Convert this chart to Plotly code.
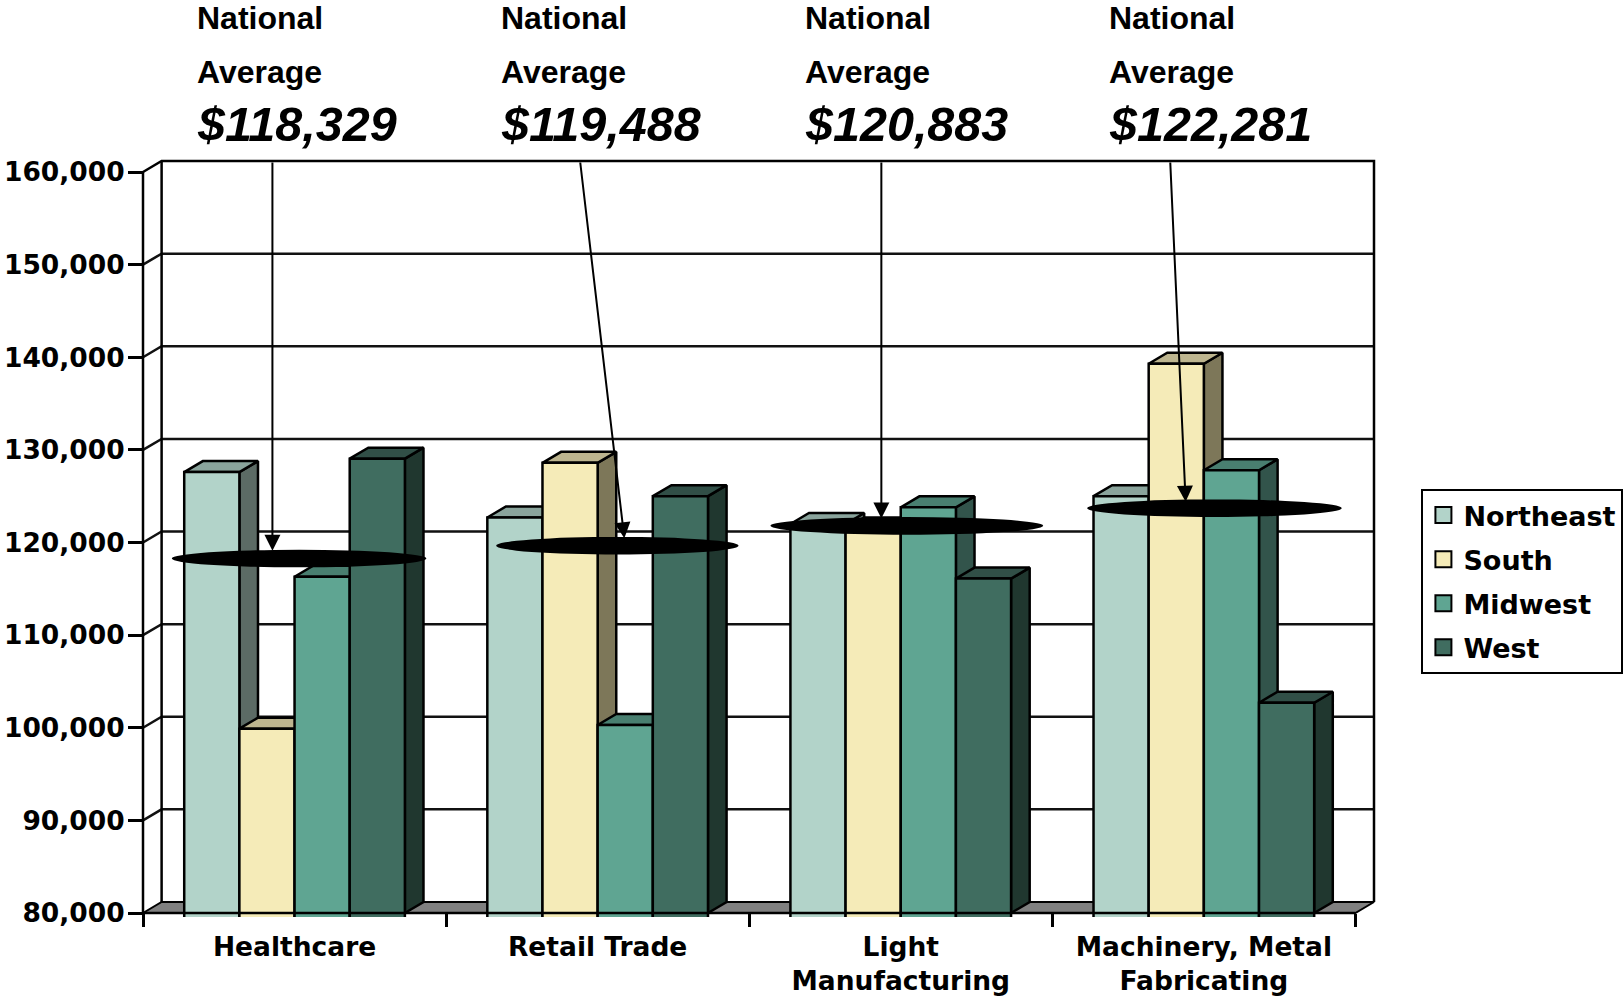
import plotly.graph_objects as go

categories = ["Healthcare", "Retail Trade", "Light<br>Manufacturing", "Machinery, Metal<br>Fabricating"]
northeast = [127600, 122700, 122000, 125000]
south = [99900, 128600, 121500, 139300]
midwest = [116300, 100300, 123800, 127800]
west = [129050, 125000, 116100, 102700]
series_names = ["Northeast", "South", "Midwest", "West"]
front_colors = ["#B2D3C9", "#F5EBB8", "#5FA592", "#406D60"]
top_colors = ["#8AA49C", "#BDB58F", "#497F70", "#314F47"]
side_colors = ["#5C6B65", "#7D7759", "#32544B", "#20372F"]
national_avg = ["$118,329", "$119,488", "$120,883", "$122,281"]
marker_levels = [118270, 119650, 121800, 123700]
marker_centers = [0.515, 1.565, 2.52, 3.535]
marker_halfwidths = [0.42, 0.40, 0.45, 0.42]
arrow_start_x = [0.427, 1.442, 2.436, 3.389]
arrow_end_x = [0.427, 1.588, 2.436, 3.44]
arrow_end_y = [119100, 120450, 122600, 124400]
y_ticks = [80000, 90000, 100000, 110000, 120000, 130000, 140000, 150000, 160000]

values = [northeast, south, midwest, west]
W, H = 1623, 996
L, R, T, B = 143, 1355, 172, 913     # front plane in page pixels
DEPTH_X, DEPTH_Y, PAD = 18.6, 11, 4
ux = (R - L) / 4
uy = (B - T) / 80000
dx = DEPTH_X / ux
dy = DEPTH_Y / uy
bar_w = 0.182
BLACK = "#000000"
x_range = [-PAD / ux, 4 + (DEPTH_X + PAD) / ux]
y_range = [80000 - PAD / uy, 160000 + (DEPTH_Y + PAD) / uy]
PL, PR = L - PAD, R + DEPTH_X + PAD
PT, PB = T - DEPTH_Y - PAD, B + PAD
fig = go.Figure()

# back wall and floor
floor_x = [0, 4, 4 + dx, dx, 0]
floor_y = [80000, 80000, 80000 + dy, 80000 + dy, 80000]
fig.add_trace(go.Scatter(x=floor_x, y=floor_y, mode="lines", fill="toself", fillcolor="#808080",
                         line=dict(color=BLACK, width=2), showlegend=False, hoverinfo="skip"))
gx, gy = [], []
for v in y_ticks[1:-1]:
    gx += [0, dx, 4 + dx, None]
    gy += [v, v + dy, v + dy, None]
fig.add_trace(go.Scatter(x=gx, y=gy, mode="lines", line=dict(color="#111111", width=2.5),
                         showlegend=False, hoverinfo="skip"))
frame_x = [0, dx, 4 + dx, 4 + dx, None, dx, dx]
frame_y = [160000, 160000 + dy, 160000 + dy, 80000 + dy, None, 160000 + dy, 80000 + dy]
fig.add_trace(go.Scatter(x=frame_x, y=frame_y, mode="lines", line=dict(color=BLACK, width=2.5),
                         showlegend=False, hoverinfo="skip"))

# side and top faces, painted left to right
for i in range(4):
    for j in range(4):
        v = values[j][i]
        xl = i + 0.5 + (j - 2) * bar_w
        xr = xl + bar_w
        fig.add_trace(go.Scatter(x=[xr, xr, xr + dx, xr + dx, xr], y=[80000, v, v + dy, 80000 + dy, 80000],
                                 mode="lines", fill="toself", fillcolor=side_colors[j],
                                 line=dict(color=BLACK, width=2.5), showlegend=False, hoverinfo="skip"))
        fig.add_trace(go.Scatter(x=[xl, xr, xr + dx, xl + dx, xl], y=[v, v, v + dy, v + dy, v],
                                 mode="lines", fill="toself", fillcolor=top_colors[j],
                                 line=dict(color=BLACK, width=2.5), showlegend=False, hoverinfo="skip"))

# front faces
for j in range(4):
    fig.add_trace(go.Bar(x=[0.5, 1.5, 2.5, 3.5], y=values[j], name=series_names[j],
                         marker=dict(color=front_colors[j], line=dict(color=BLACK, width=2.5)),
                         xaxis="x2", yaxis="y2", showlegend=False))

# front axis lines over the bars
fig.add_trace(go.Scatter(x=[0, 0, 4], y=[160000, 80000, 80000], mode="lines", xaxis="x2", yaxis="y2",
                         line=dict(color=BLACK, width=2.5), showlegend=False, hoverinfo="skip"))

# legend entries
for j in range(4):
    fig.add_trace(go.Scatter(x=[None], y=[None], mode="markers", name=series_names[j], legendgroup=series_names[j],
                             marker=dict(symbol="square", size=16, color=front_colors[j],
                                         line=dict(color=BLACK, width=2))))

shapes = []
for c, hw, lv in zip(marker_centers, marker_halfwidths, marker_levels):
    shapes.append(dict(type="circle", xref="x", yref="y", x0=c - hw, x1=c + hw, y0=lv - 950, y1=lv + 950,
                       fillcolor=BLACK, line=dict(color=BLACK, width=0), layer="above"))

annotations = []
def px(p):
    return (p - PL) / (PR - PL)
def py(p):
    return (PB - p) / (PB - PT)
for i, p in enumerate([196.6, 500.8, 805, 1109]):
    annotations.append(dict(xref="paper", yref="paper", x=px(p - 2), y=py(18), text="<b>National</b>", showarrow=False,
                            xanchor="left", yanchor="middle", font=dict(family="Liberation Sans", size=32, color=BLACK)))
    annotations.append(dict(xref="paper", yref="paper", x=px(p - 2), y=py(72), text="<b>Average</b>", showarrow=False,
                            xanchor="left", yanchor="middle", font=dict(family="Liberation Sans", size=32, color=BLACK)))
    annotations.append(dict(xref="paper", yref="paper", x=px(p - 2), y=py(124), text="<b><i>" + national_avg[i] + "</i></b>",
                            showarrow=False, xanchor="left", yanchor="middle",
                            font=dict(family="Liberation Sans", size=48.5, color=BLACK)))
    annotations.append(dict(xref="x", yref="y", axref="x", ayref="y", x=arrow_end_x[i], y=arrow_end_y[i],
                            ax=arrow_start_x[i], ay=160000 + dy, text="", showarrow=True,
                            arrowhead=2, arrowsize=1.6, arrowwidth=2, arrowcolor=BLACK, standoff=0, startstandoff=0))

y_font = dict(family="DejaVu Sans", size=26.5, color=BLACK)
x_font = dict(family="DejaVu Sans", size=26.5, color=BLACK)
fig.update_layout(
    width=W, height=H, autosize=False, paper_bgcolor="white", plot_bgcolor="white",
    margin=dict(l=PL, r=W - PR, t=PT, b=H - PB, pad=0, autoexpand=False),
    barmode="group", bargap=1 - 4 * bar_w, bargroupgap=0,
    shapes=shapes, annotations=annotations, hovermode=False,
    font=dict(family="DejaVu Sans", color=BLACK),
    xaxis=dict(range=x_range, tickmode="array", tickvals=[0.5, 1.5, 2.5, 3.5],
               ticktext=["<b>%s</b>" % c for c in categories], ticks="", showline=False, showgrid=False,
               zeroline=False, ticklabelstandoff=11, tickfont=x_font, tickangle=0),
    yaxis=dict(range=y_range, showticklabels=False, ticks="", showline=False, showgrid=False, zeroline=False),
    xaxis2=dict(range=x_range, overlaying="x", anchor="free", position=PAD / (PB - PT), tickmode="array",
                tickvals=[0, 1, 2, 3, 4], showticklabels=False, ticks="outside", ticklen=13, tickwidth=2.5,
                tickcolor=BLACK, showline=False, showgrid=False, zeroline=False),
    yaxis2=dict(range=y_range, overlaying="y", anchor="free", position=PAD / (PR - PL), side="left",
                tickmode="array", tickvals=y_ticks, ticktext=["<b>{:,}</b>".format(v) for v in y_ticks],
                ticks="outside", ticklen=15, tickwidth=2.5, tickcolor=BLACK, showline=False, showgrid=False,
                zeroline=False, tickfont=y_font, ticklabelstandoff=-2),
    legend=dict(x=px(1421), y=py(489), xanchor="left", yanchor="top", bgcolor="white", bordercolor=BLACK, borderwidth=2,
                font=dict(family="DejaVu Sans", size=27, color=BLACK, weight="bold"), itemsizing="trace",
                traceorder="grouped", tracegroupgap=6, itemclick=False, itemdoubleclick=False),
)
fig.write_html("out.html", config=dict(displayModeBar=False),
               post_script="document.body.style.margin='0';document.body.style.overflow='hidden';")
